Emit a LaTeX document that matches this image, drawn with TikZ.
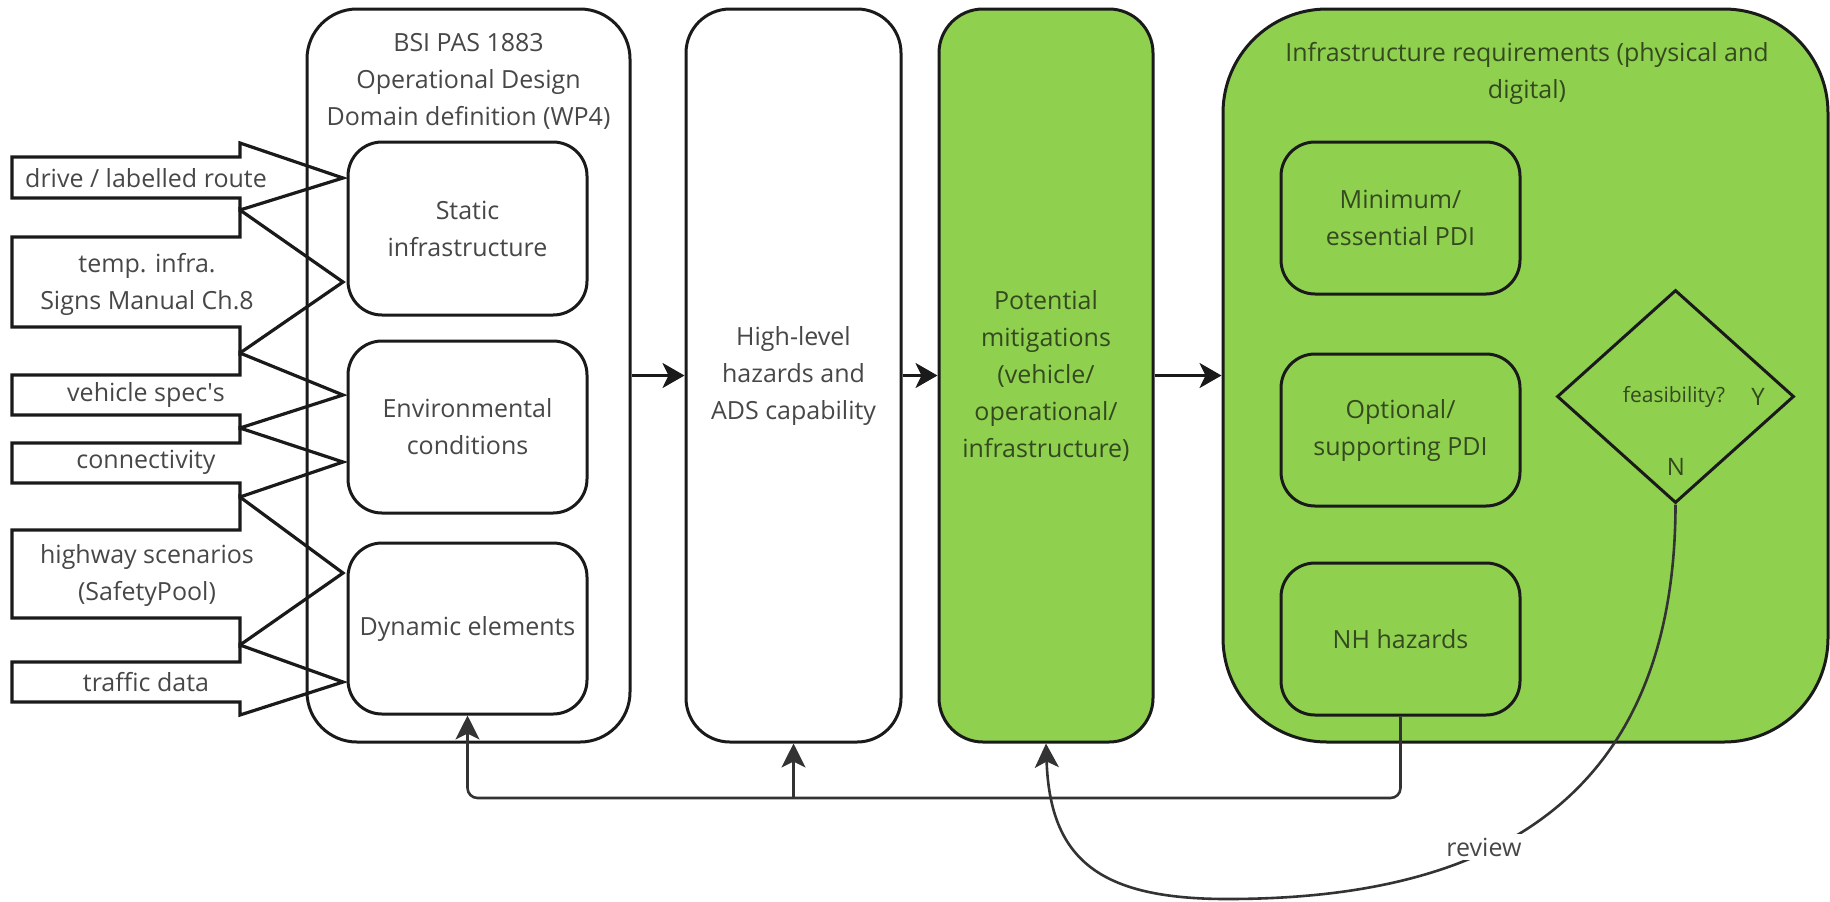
\documentclass[tikz,border=0pt]{standalone}
\usepackage{fontspec}
\setmainfont{Open Sans}
\usetikzlibrary{shapes.geometric,arrows.meta}
\definecolor{mgreen}{HTML}{8FD14F}
\definecolor{txt}{HTML}{474747}
\definecolor{gtxt}{HTML}{34491F}
\definecolor{edge}{HTML}{1A1A1A}
\definecolor{fbc}{HTML}{333333}
\newcommand\inarrow[5]{\draw[inarr] (12,#2) -- (240,#2) -- (240,#1) -- (343,#3) -- (240,#5) -- (240,#4) -- (12,#4) -- cycle;}
\begin{document}
\begin{tikzpicture}[x=0.5pt,y=-0.5pt,
  every node/.style={font=\fontsize{12.5}{18.5}\selectfont, text=txt, align=center},
  bigbox/.style={draw=edge, line width=1.5pt, fill=white, inner sep=0pt, minimum height=366.5pt},
  innerbox/.style={draw=edge, line width=1.5pt, fill=white, rounded corners=17pt, inner sep=0pt, minimum width=119.5pt},
  greenbox/.style={innerbox, fill=mgreen, text=gtxt, minimum height=76pt},
  inarr/.style={draw=edge, line width=1.6pt, line join=miter},
  flow/.style={draw=edge, line width=1.5pt, -{Stealth[length=11pt,width=12.5pt,inset=3pt]}},
  fb/.style={draw=fbc, line width=1.3pt, rounded corners=5pt, -{Stealth[length=12pt,width=12pt,inset=3pt]}},
  lbl/.style={inner sep=1pt}
]
\useasboundingbox (0,0) rectangle (1830,901);

% outer boxes
\node[bigbox, rounded corners=25pt, minimum width=161.5pt] (bsi) at (468.5,375.5) {};
\node[bigbox, rounded corners=22pt, minimum width=107.5pt] (hl) at (793.5,375.5) {High-level\\hazards and\\ADS capability};
\node[bigbox, rounded corners=22pt, minimum width=107pt, fill=mgreen, text=gtxt] (mit) at (1046,375.5) {Potential\\mitigations\\(vehicle/\\operational/\\infrastructure)};
\node[bigbox, rounded corners=52pt, minimum width=302.5pt, fill=mgreen] (inf) at (1525.5,375.5) {};

% titles
\node (bsit) at (468.5,81) {BSI PAS 1883\\Operational Design\\Domain definition (WP4)};
\node[text=gtxt] (inft) at (1527,73) {Infrastructure requirements (physical and\\digital)};

% inner boxes of BSI
\node[innerbox, minimum height=86.5pt] (sta) at (467.5,228.5) {Static\\infrastructure};
\node[innerbox, minimum height=86pt] (env) at (467.5,427) {Environmental\\conditions};
\node[innerbox, minimum height=85.5pt] (dyn) at (467.5,628.5) {Dynamic elements};

% inner boxes of infrastructure
\node[greenbox] (min) at (1400.5,218) {Minimum/\\essential PDI};
\node[greenbox] (opt) at (1400.5,430) {Optional/\\supporting PDI};
\node[greenbox] (nh) at (1400.5,639) {NH hazards};
\node[diamond, draw=edge, line width=1.5pt, inner sep=0pt, minimum width=118.5pt, minimum height=106.5pt] (dia) at (1675.5,396.5) {};
\node[lbl, text=gtxt, font=\fontsize{10.5}{12}\selectfont] (feas) at (1674,397) {feasibility?};
\node[lbl, text=gtxt, font=\fontsize{12}{14}\selectfont] (yes) at (1758,397) {Y};
\node[lbl, text=gtxt, font=\fontsize{12}{14}\selectfont] (no) at (1676,467) {N};

% input block arrows
\inarrow{143}{157}{178}{198}{210}
\inarrow{210}{237}{282}{327}{353}
\inarrow{353}{375}{395}{415}{428}
\inarrow{428}{443}{462}{483}{497}
\inarrow{497}{530}{573}{618}{645}
\inarrow{645}{662}{682}{702}{715}
\node[lbl] (i1) at (146,178) {drive / labelled route};
\node[lbl] (i2) at (147,284) {temp. infra.\\Signs Manual Ch.8};
\node[lbl] (i3) at (146,395) {vehicle spec\textquotesingle s};
\node[lbl] (i4) at (146,462) {connectivity};
\node[lbl] (i5) at (147,575) {highway scenarios\\(SafetyPool)};
\node[lbl] (i6) at (146,682) {traffic data};

% main flow
\draw[flow] (bsi.east) -- (hl.west);
\draw[flow] (hl.east) -- (mit.west);
\draw[flow] (mit.east) -- (inf.west);

% feedback
\coordinate (bus) at (0,798);
\draw[fb] (nh.south) -- (nh.south |- bus) -| (dyn.south);
\draw[fb] (hl.south |- bus) -- (hl.south);
\draw[fb, rounded corners=0pt] (dia.south) .. controls (1675,830) and (1450,899) .. (1227,899) .. controls (1100,899) and (1050,860) .. (mit.south);
\node[fill=white, inner sep=2pt] (rev) at (1484,847) {review};
\end{tikzpicture}
\end{document}
